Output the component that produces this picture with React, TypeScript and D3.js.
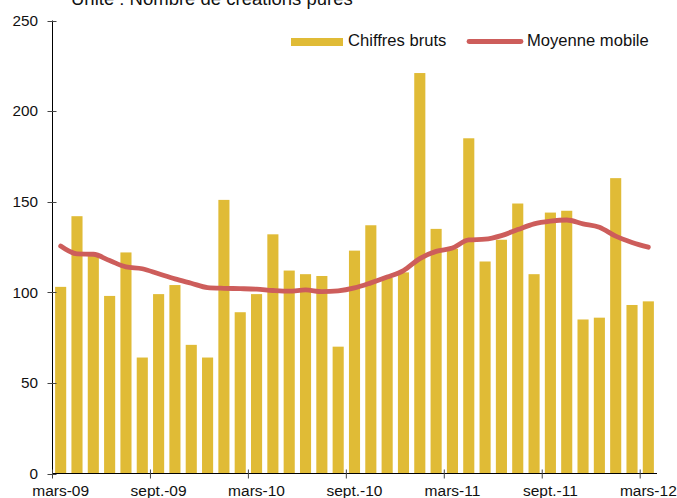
import React from 'react'
import * as d3 from 'd3'

const months = [
  'mars-09', 'avr.-09', 'mai-09', 'juin-09', 'juil.-09', 'août-09', 'sept.-09', 'oct.-09', 'nov.-09', 'déc.-09',
  'janv.-10', 'févr.-10', 'mars-10', 'avr.-10', 'mai-10', 'juin-10', 'juil.-10', 'août-10', 'sept.-10', 'oct.-10',
  'nov.-10', 'déc.-10', 'janv.-11', 'févr.-11', 'mars-11', 'avr.-11', 'mai-11', 'juin-11', 'juil.-11', 'août-11',
  'sept.-11', 'oct.-11', 'nov.-11', 'déc.-11', 'janv.-12', 'févr.-12', 'mars-12',
]

const raw = [
  103, 142, 120, 98, 122, 64, 99, 104, 71, 64,
  151, 89, 99, 132, 112, 110, 109, 70, 123, 137,
  108, 111, 221, 135, 124, 185, 117, 129, 149, 110,
  144, 145, 85, 86, 163, 93, 95,
]

const movingAvg = [
  125.5, 121.2, 121, 117.5, 114, 113, 110.2, 107.4, 105, 102.6,
  102.2, 102, 101.7, 101, 100.6, 101.3, 100.4, 100.8, 102.4, 105.2,
  108.4, 112, 118.6, 122.6, 124.4, 128.9, 129.3, 131.3, 134.6, 137.8,
  139.3, 139.9, 137.8, 135.9, 131, 127.5, 124.9,
]

const yTicks = [0, 50, 100, 150, 200, 250]
const xTickLabels = ['mars-09', 'sept.-09', 'mars-10', 'sept.-10', 'mars-11', 'sept.-11', 'mars-12']

const title = 'Unité : Nombre de créations pures'
const legendBars = 'Chiffres bruts'
const legendLine = 'Moyenne mobile'

const W = 677
const H = 498
const left = 52.5
const right = 657
const top = 20.5
const bottom = 473.5

const barColor = '#e0bb36'
const lineColor = '#cd5d5b'
const font = 'Arial, "Liberation Sans", sans-serif'

export default function App() {
  const x = d3.scaleBand<string>()
    .domain(months)
    .range([left, right - 0.5])
    .paddingInner(0.32)
    .paddingOuter(0.16)

  const y = d3.scaleLinear().domain([0, 250]).range([bottom, top])

  const gap = x.step() * x.paddingInner() / 2
  const bw = x.bandwidth()

  const line = d3.line<number>()
    .x((_, i) => (x(months[i]) as number) + bw / 2)
    .y(d => y(d))
    .curve(d3.curveMonotoneX)

  return (
    <svg width={W} height={H} style={{ position: 'absolute', left: 0, top: 0, background: '#fff' }} fontFamily={font}>
      {/* title is cut by the top edge, as in the source */}
      <text x={71} y={5} fontSize={18.5} fill="#111">{title}</text>

      {raw.map((v, i) => (
        <rect key={months[i]} x={x(months[i])} y={y(v)} width={bw} height={y(0) - y(v)} fill={barColor} />
      ))}

      <path d={line(movingAvg) ?? ''} fill="none" stroke={lineColor} strokeWidth={4.8}
        strokeLinejoin="round" strokeLinecap="round" />

      {/* y axis */}
      <line x1={left} x2={left} y1={top} y2={bottom} stroke="#000" />
      {yTicks.map(t => (
        <g key={t}>
          <line x1={left - 5} x2={left + 4} y1={Math.round(y(t)) + 0.5} y2={Math.round(y(t)) + 0.5} stroke="#444" />
          <text x={38} y={y(t)} dy="0.35em" textAnchor="end" fontSize={15.3} fill="#111">{t}</text>
        </g>
      ))}

      {/* x axis */}
      <line x1={left} x2={right} y1={bottom} y2={bottom} stroke="#000" />
      {xTickLabels.map(m => {
        const xs = (x(m) as number) - gap
        return (
          <g key={m}>
            <line x1={xs} x2={xs} y1={bottom - 4} y2={bottom + 5} stroke="#444" />
            <text x={(x(m) as number) + bw / 2} y={496} textAnchor="middle" fontSize={15.5} fill="#111">{m}</text>
          </g>
        )
      })}

      {/* legend */}
      <rect x={291} y={38} width={52} height={8} fill={barColor} />
      <text x={348} y={46} fontSize={16.6} fill="#111">{legendBars}</text>
      <line x1={469} x2={521} y1={41.5} y2={41.5} stroke={lineColor} strokeWidth={4.8} strokeLinecap="round" />
      <text x={527} y={46} fontSize={16.6} fill="#111">{legendLine}</text>
    </svg>
  )
}
